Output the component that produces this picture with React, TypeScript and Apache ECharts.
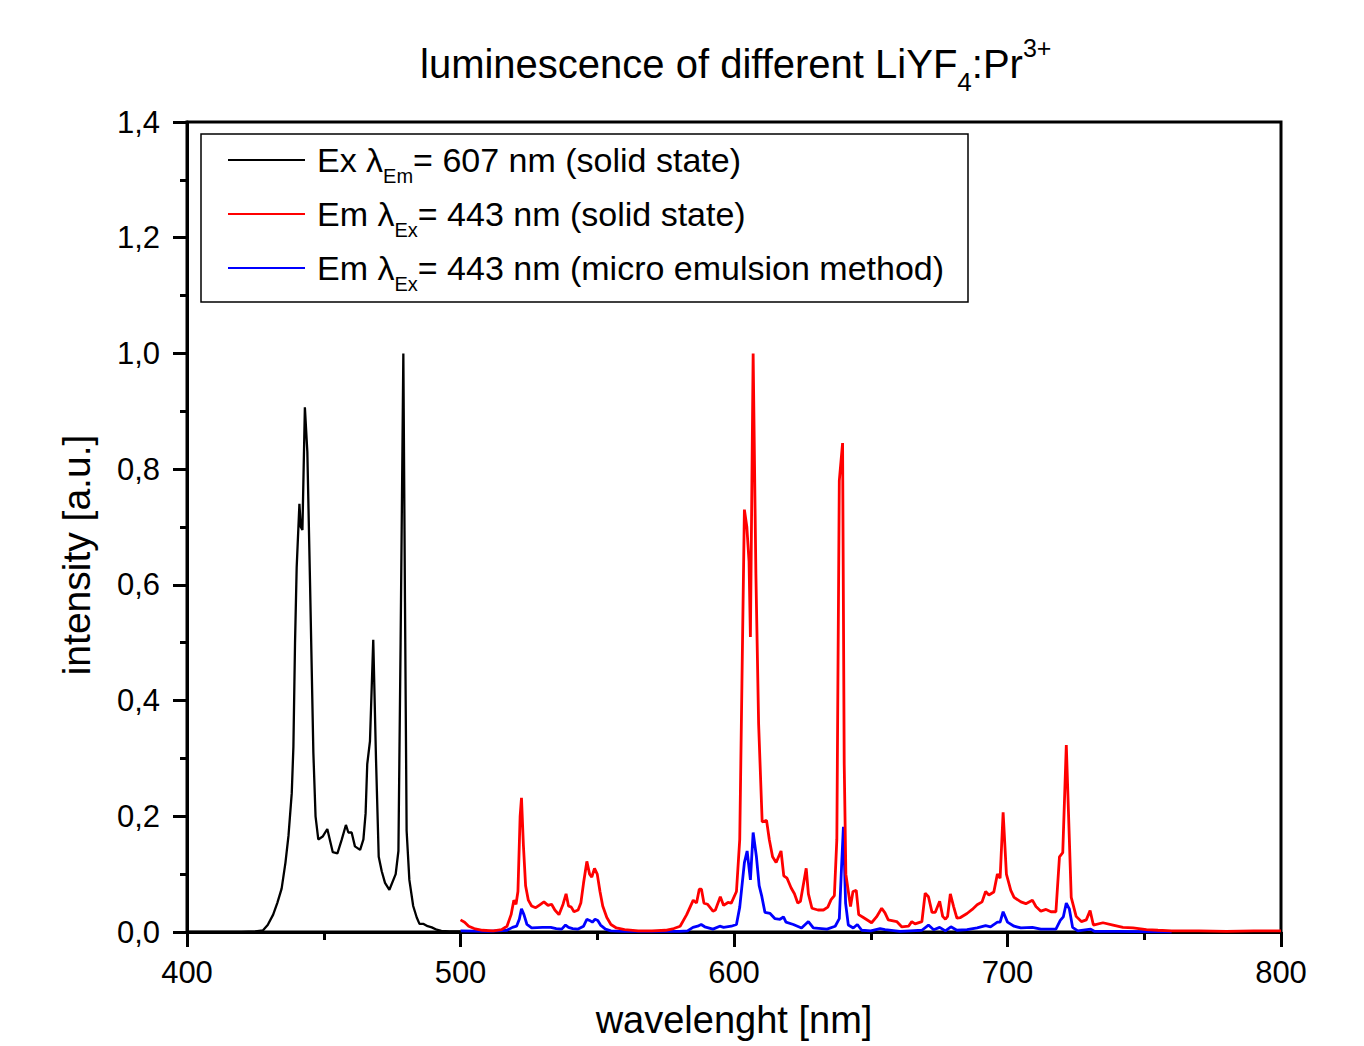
import React, { useEffect, useRef } from 'react';
import * as echarts from 'echarts';

// Excitation spectrum (emission monitored at 607 nm), solid state
const exSpectrum: [number, number][] = [
  [400, 0], [410, 0], [420, 0], [425, 0.001], [427.8, 0.003], [429.5, 0.012], [431.5, 0.03],
  [433, 0.05], [434.6, 0.075], [436, 0.12], [437.1, 0.166], [438.3, 0.24], [438.9, 0.32],
  [439.5, 0.5], [440.1, 0.63], [441.1, 0.74], [441.6, 0.70], [442.2, 0.695], [443.1, 0.907],
  [444, 0.83], [445, 0.6], [446.2, 0.31], [447, 0.2], [448, 0.16], [449.6, 0.165],
  [451.3, 0.178], [453.3, 0.138], [455, 0.136], [456.6, 0.16], [458.1, 0.185], [459, 0.172],
  [460.2, 0.172], [461.4, 0.148], [463.3, 0.142], [464.5, 0.16], [465.3, 0.205],
  [465.9, 0.29], [466.9, 0.33], [468.1, 0.505], [469.1, 0.3], [470.1, 0.13], [471.2, 0.105],
  [472.4, 0.085], [474, 0.073], [476.3, 0.1], [477.3, 0.14], [478.1, 0.5], [479.1, 1.0],
  [479.7, 0.57], [480.3, 0.175], [481.3, 0.09], [482.7, 0.045], [484, 0.025], [485, 0.014],
  [486.5, 0.014], [488, 0.01], [489.5, 0.008], [491.3, 0.004], [493, 0.002], [496, 0.001], [500, 0.001],
];

// Emission spectrum (excitation at 443 nm), solid state
const emSolidSpectrum: [number, number][] = [
  [500, 0.021], [501.5, 0.017], [503, 0.01], [505, 0.006], [508, 0.003], [512, 0.002],
  [515, 0.004], [517, 0.01], [518.5, 0.03], [519.5, 0.055], [520.3, 0.048], [521, 0.07],
  [521.8, 0.2], [522.3, 0.232], [523, 0.15], [523.8, 0.08], [524.8, 0.055], [526, 0.045],
  [527.5, 0.042], [529, 0.047], [530.5, 0.052], [532, 0.046], [533.3, 0.048], [534.5, 0.038],
  [536, 0.03], [537.5, 0.048], [538.6, 0.066], [539.5, 0.045], [540.5, 0.043], [541.5, 0.035],
  [543, 0.038], [544, 0.05], [545, 0.085], [546.2, 0.122], [547.2, 0.1], [548, 0.095],
  [549, 0.11], [550, 0.1], [551, 0.07], [552, 0.045], [553.5, 0.025], [555, 0.013],
  [557, 0.007], [560, 0.004], [565, 0.002], [570, 0.002], [575, 0.003], [578, 0.006],
  [580.3, 0.01], [582.7, 0.03], [585.1, 0.055], [586.3, 0.05], [587.3, 0.074], [588.1, 0.074],
  [589, 0.05], [590.3, 0.048], [592.3, 0.036], [593.2, 0.038], [595, 0.061], [596.2, 0.046],
  [597.8, 0.051], [599, 0.05], [600.9, 0.07], [602.1, 0.16], [602.9, 0.43], [603.8, 0.73],
  [604.7, 0.70], [605.5, 0.64], [606, 0.51], [607, 1.0], [608, 0.62], [609, 0.36],
  [610.3, 0.19], [611.9, 0.193], [612.9, 0.16], [614.1, 0.13], [615.4, 0.12], [617.2, 0.14],
  [618.2, 0.097], [619.4, 0.093], [620.9, 0.076], [622.1, 0.066], [623.3, 0.05], [624.3, 0.053],
  [625.4, 0.083], [626.4, 0.11], [627.2, 0.066], [628.5, 0.041], [630.7, 0.038], [632.7, 0.038],
  [634.3, 0.043], [635.5, 0.056], [636.7, 0.063], [637.6, 0.16], [638.5, 0.78], [639.7, 0.845],
  [640.3, 0.29], [640.9, 0.1], [641.8, 0.07], [642.6, 0.044], [643.5, 0.07], [644.7, 0.072],
  [645.6, 0.03], [647.3, 0.025], [650.3, 0.016], [652.1, 0.026], [654, 0.041], [655.2, 0.033],
  [656.4, 0.021], [659.5, 0.018], [661.3, 0.009], [663.8, 0.01], [665, 0.018], [666.2, 0.014],
  [668.7, 0.018], [669.9, 0.067], [671.1, 0.061], [672.4, 0.034], [673.6, 0.034], [675.2, 0.053],
  [676.3, 0.027], [677.3, 0.022], [678.1, 0.027], [679.1, 0.066], [680.3, 0.044], [681.5, 0.024],
  [682.8, 0.025], [685.2, 0.032], [687.1, 0.039], [688.9, 0.047], [690.7, 0.052], [692, 0.07],
  [693.2, 0.064], [695, 0.069], [696.3, 0.1], [697.3, 0.093], [698.4, 0.207], [699.6, 0.1],
  [701.2, 0.072], [702.4, 0.06], [704.9, 0.052], [706.7, 0.049], [709.1, 0.055], [710.4, 0.044],
  [712.2, 0.036], [714.1, 0.039], [715.9, 0.035], [717.7, 0.035], [719, 0.13], [720.2, 0.137],
  [721.5, 0.323], [723.3, 0.06], [725.1, 0.027], [727, 0.018], [728.8, 0.021], [730.2, 0.037],
  [731.4, 0.012], [734.9, 0.016], [738.6, 0.012], [742.2, 0.008], [745.9, 0.007], [750.8, 0.004],
  [755, 0.003], [760, 0.002], [770, 0.002], [780, 0.001], [790, 0.002], [800, 0.002],
];

// Emission spectrum (excitation at 443 nm), micro emulsion method
const emMicroSpectrum: [number, number][] = [
  [500, 0.002], [510, 0.001], [517, 0.003], [519, 0.008], [520.5, 0.01], [521.5, 0.022],
  [522.3, 0.04], [523.2, 0.03], [524.3, 0.013], [526, 0.007], [530, 0.008], [533, 0.008],
  [535, 0.006], [537, 0.005], [538.4, 0.012], [539.5, 0.008], [541, 0.006], [543, 0.005],
  [545, 0.01], [546.2, 0.022], [547.2, 0.02], [548.2, 0.017], [549.2, 0.022], [550.2, 0.02],
  [551.2, 0.012], [553, 0.005], [555, 0.002], [560, 0.001], [580, 0.001], [583, 0.002],
  [585, 0.008], [586.7, 0.01], [588, 0.013], [589.3, 0.009], [592.3, 0.005], [594.8, 0.01],
  [596.2, 0.008], [599, 0.01], [600.9, 0.013], [602.1, 0.043], [603.8, 0.12], [604.8, 0.14],
  [606, 0.09], [607, 0.172], [608.2, 0.13], [609.2, 0.08], [610.1, 0.063], [611.3, 0.034],
  [613.2, 0.032], [615, 0.023], [616.8, 0.022], [618.1, 0.026], [619, 0.017], [621.7, 0.013],
  [624.7, 0.007], [627.2, 0.018], [629, 0.007], [634, 0.005], [637, 0.01], [638.5, 0.023],
  [639.3, 0.11], [640, 0.182], [640.8, 0.05], [641.8, 0.012], [643.6, 0.007], [645.1, 0.013],
  [646.7, 0.003], [650, 0.002], [653.4, 0.006], [655.2, 0.004], [660.7, 0.001], [664.4, 0.002],
  [668.7, 0.003], [671.1, 0.012], [673, 0.004], [675.2, 0.008], [677.3, 0.002], [679.3, 0.009],
  [681.5, 0.003], [685.2, 0.004], [688.9, 0.007], [692, 0.011], [693.8, 0.009], [696.3, 0.017],
  [697.3, 0.017], [698.4, 0.035], [700, 0.017], [702.4, 0.01], [704.9, 0.007], [709.1, 0.008],
  [712.2, 0.005], [717.7, 0.005], [719.3, 0.02], [720.4, 0.026], [721.5, 0.05], [722.6, 0.04],
  [723.8, 0.008], [725.7, 0.002], [730.4, 0.005], [731.9, 0.001], [740, 0.001], [760, 0],
];

const seriesNames = [
  'Ex λEm= 607 nm (solid state)',
  'Em λEx= 443 nm (solid state)',
  'Em λEx= 443 nm (micro emulsion method)',
];
const legendRich = [
  '{m|Ex λ}{s|Em}{m|= 607 nm (solid state)}',
  '{m|Em λ}{s|Ex}{m|= 443 nm (solid state)}',
  '{m|Em λ}{s|Ex}{m|= 443 nm (micro emulsion method)}',
];
const seriesColors = ['#000000', '#ff0000', '#0000ff'];

const FONT = '"Liberation Sans", Arial, Helvetica, sans-serif';

export default function App() {
  const ref = useRef<HTMLDivElement>(null);

  useEffect(() => {
    document.body.style.margin = '0';
    if (!ref.current) return;
    const chart = echarts.init(ref.current, null, { renderer: 'svg' });
    const datasets = [exSpectrum, emSolidSpectrum, emMicroSpectrum];
    const option: any = {
      animation: false,
      backgroundColor: '#ffffff',
      textStyle: { fontFamily: FONT, color: '#000' },
      title: {
        text: '{a|luminescence of different LiYF}{sub|4}{a|:Pr}{sup|3+}',
        left: 420,
        top: 33,
        padding: 0,
        textStyle: {
          fontFamily: FONT,
          fontWeight: 'normal',
          rich: {
            a: { fontSize: 40, fontWeight: 'normal', fontFamily: FONT, color: '#000', lineHeight: 44 },
            sub: { fontSize: 26, fontWeight: 'normal', fontFamily: FONT, color: '#000', padding: [36, 0, 0, 0] },
            sup: { fontSize: 25, fontWeight: 'normal', fontFamily: FONT, color: '#000', padding: [0, 0, 32, 0] },
          },
        },
      },
      grid: {
        left: 187,
        right: 83,
        top: 122,
        bottom: 114,
        outerBoundsMode: 'none',
        containLabel: false,
        show: true,
        borderColor: '#000',
        borderWidth: 3,
        backgroundColor: 'transparent',
      },
      legend: {
        orient: 'vertical',
        left: 228,
        top: 143,
        padding: 0,
        icon: 'rect',
        itemWidth: 77,
        itemHeight: 2,
        itemGap: 11,
        data: seriesNames,
        formatter: (name: string) => legendRich[seriesNames.indexOf(name)],
        textStyle: {
          fontFamily: FONT,
          padding: [0, 0, 0, 7],
          rich: {
            m: { fontSize: 34, fontFamily: FONT, color: '#000', lineHeight: 36 },
            s: { fontSize: 20, fontFamily: FONT, color: '#000', padding: [32, 0, 0, 0] },
          },
        },
      },
      graphic: [
        {
          type: 'rect',
          silent: true,
          z: 10,
          shape: { x: 201, y: 134, width: 767, height: 168 },
          style: { fill: 'none', stroke: '#000', lineWidth: 1.5 },
        },
      ],
      xAxis: {
        type: 'value',
        min: 400,
        max: 800,
        interval: 100,
        name: 'wavelenght [nm]',
        nameLocation: 'middle',
        nameGap: 68,
        nameTextStyle: { fontSize: 38, lineHeight: 40, fontFamily: FONT, color: '#000' },
        axisLine: { show: true, onZero: false, lineStyle: { color: '#000', width: 3 } },
        axisTick: { show: true, length: 15, inside: false, lineStyle: { color: '#000', width: 3 } },
        minorTick: { show: true, splitNumber: 2, length: 8, lineStyle: { color: '#000', width: 3 } },
        axisLabel: { fontSize: 31, fontFamily: FONT, color: '#000', margin: 25 },
        splitLine: { show: false },
        minorSplitLine: { show: false },
      },
      yAxis: {
        type: 'value',
        min: 0,
        max: 1.4,
        interval: 0.2,
        name: 'intensity [a.u.]',
        nameLocation: 'middle',
        nameGap: 91,
        nameTextStyle: { fontSize: 39, fontFamily: FONT, color: '#000', padding: [0, 56, 0, 0] },
        axisLine: { show: true, onZero: false, lineStyle: { color: '#000', width: 3 } },
        axisTick: { show: true, length: 14, inside: false, lineStyle: { color: '#000', width: 3 } },
        minorTick: { show: true, splitNumber: 2, length: 7, lineStyle: { color: '#000', width: 3 } },
        axisLabel: {
          fontSize: 31,
          fontFamily: FONT,
          color: '#000',
          margin: 27,
          formatter: (v: number) => v.toFixed(1).replace('.', ','),
        },
        splitLine: { show: false },
        minorSplitLine: { show: false },
      },
      series: datasets.map((d, i) => ({
        name: seriesNames[i],
        type: 'line',
        data: d,
        symbol: 'none',
        showSymbol: false,
        smooth: false,
        color: seriesColors[i],
        lineStyle: { color: seriesColors[i], width: i === 0 ? 2.3 : 2.8 },
        z: 3 - i,
      })),
    };
    chart.setOption(option);
    return () => chart.dispose();
  }, []);

  return <div ref={ref} style={{ width: 1364, height: 1046 }} />;
}
